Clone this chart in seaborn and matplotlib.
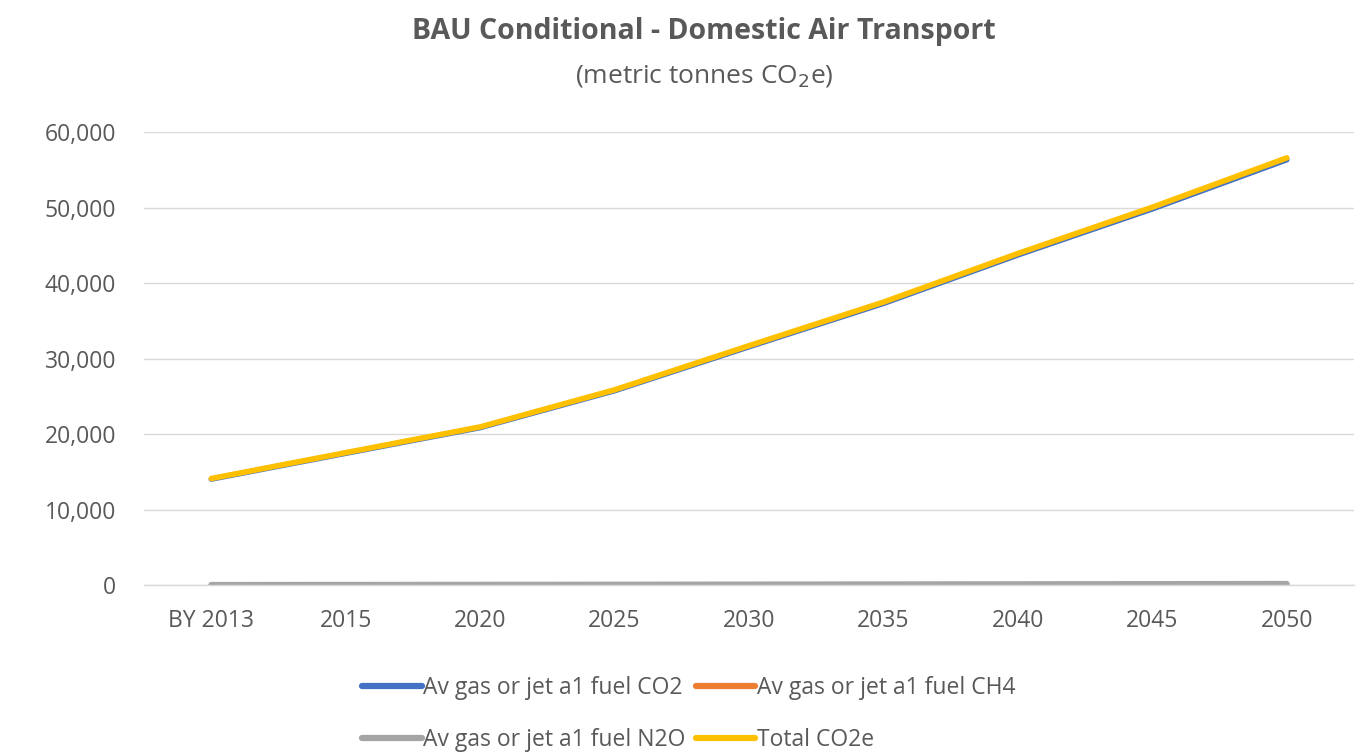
import matplotlib
matplotlib.use("Agg")
import matplotlib.pyplot as plt
from matplotlib.ticker import FuncFormatter
from matplotlib.lines import Line2D
import seaborn as sns
import pandas as pd

years = ["BY 2013", "2015", "2020", "2025", "2030", "2035", "2040", "2045", "2050"]
co2 = [14030, 17450, 20850, 25740, 31560, 37300, 43720, 49820, 56330]
ch4 = [2, 2, 3, 3, 4, 4, 5, 6, 6]
n2o = [45, 55, 66, 82, 100, 119, 139, 159, 180]
total = [14100, 17530, 20940, 25850, 31700, 37470, 43910, 50040, 56575]

series_names = [
    "Av gas or jet a1 fuel CO2",
    "Av gas or jet a1 fuel CH4",
    "Av gas or jet a1 fuel N2O",
    "Total CO2e",
]
palette = ["#4472C4", "#ED7D31", "#A5A5A5", "#FFC000"]

frames = []
for name, vals in zip(series_names, [co2, ch4, n2o, total]):
    frames.append(pd.DataFrame({"year": years, "value": vals, "series": name}))
df = pd.concat(frames, ignore_index=True)

sns.set_theme(style="white")
plt.rcParams["font.family"] = ["Open Sans", "DejaVu Sans"]

fig = plt.figure(figsize=(13.64, 7.53), dpi=100)
ax = fig.add_axes([0.1056, 0.2231, 0.8871, 0.6016])

sns.lineplot(data=df, x="year", y="value", hue="series", hue_order=series_names,
             palette=palette, linewidth=4.0, ax=ax, legend=False, sort=False,
             solid_capstyle="round")

ax.set_xlim(-0.5, len(years) - 0.5)
ax.set_ylim(0, 60000)
ax.set_yticks(range(0, 60001, 10000))
ax.yaxis.set_major_formatter(FuncFormatter(lambda v, p: f"{int(v):,}"))
ax.grid(axis="y", color="#D9D9D9", linewidth=1.0)
ax.set_axisbelow(True)
for side in ["top", "right", "left"]:
    ax.spines[side].set_visible(False)
ax.spines["bottom"].set_color("#D9D9D9")
ax.spines["bottom"].set_linewidth(1.0)
ax.tick_params(axis="both", length=0, labelsize=16.5, labelcolor="#595959")
ax.tick_params(axis="x", pad=17)
ax.tick_params(axis="y", pad=20)
ax.set_xlabel("")
ax.set_ylabel("")

fig.text(0.516, 0.958, "BAU Conditional - Domestic Air Transport", ha="center", va="center",
         fontsize=20.5, fontweight="bold", color="#595959")
fig.text(0.516, 0.899, "(metric tonnes CO$_2$e)", ha="center", va="center",
         fontsize=19, color="#595959")

# Legend: two columns, filled column-wise so rows read CO2/CH4 then N2O/Total
handles = [Line2D([0], [0], color=c, linewidth=4.5) for c in palette]
order = [0, 2, 1, 3]
leg = fig.legend([handles[i] for i in order], [series_names[i] for i in order],
                 ncol=2, loc="center", bbox_to_anchor=(0.505, 0.052), frameon=False,
                 fontsize=16.5, handlelength=2.6, handletextpad=0.05,
                 columnspacing=0.45, labelspacing=1.2)
for t in leg.get_texts():
    t.set_color("#595959")

fig.savefig("out.png", dpi=100, facecolor="white")
